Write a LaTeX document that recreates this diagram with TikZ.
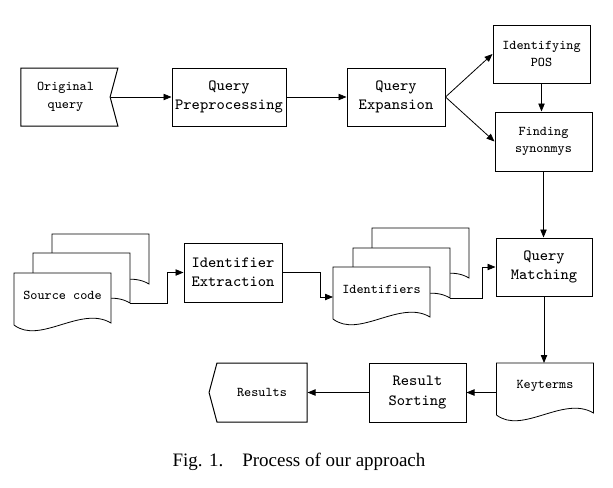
\documentclass[tikz,border=0pt]{standalone}
\usepackage{fontspec}
\setmainfont{Liberation Serif}
\usetikzlibrary{shapes.symbols,arrows.meta,calc,backgrounds}

\begin{document}
\begin{tikzpicture}[x=0.5pt, y=-0.5pt, line width=0.5pt,
    box/.style={draw, rectangle, fill=white, align=center, inner sep=0pt, font=\ttfamily\fontsize{7.8}{9.6}\selectfont},
    small/.style={font=\ttfamily\fontsize{6.7}{8.85}\selectfont},
    doc/.style={rectangle, anchor=north west, minimum width=48pt, minimum height=22pt, inner sep=0pt, align=center, small},
    arrow/.style={-{Triangle[length=4pt,width=3.2pt]}}]

    \useasboundingbox (0,0) rectangle (613,487);

    \node[box, small, signal, signal to=nowhere, signal from=east, signal pointer angle=150, minimum width=48.5pt, minimum height=29pt] at (65.5,97) (orig) {Original\\query};
    \node[box, minimum width=57pt, minimum height=29pt] at (229,97) (prep) {Query\\Preprocessing};
    \node[box, minimum width=49pt, minimum height=29pt] at (396,97) (expn) {Query\\Expansion};
    \node[box, small, minimum width=48.5pt, minimum height=29pt] at (541.5,54) (pos) {Identifying\\POS};
    \node[box, small, minimum width=48.5pt, minimum height=29.5pt] at (543.5,141.5) (syn) {Finding\\synonmys};
    \node[box, minimum width=48pt, minimum height=29pt] at (544,267) (match) {Query\\Matching};
    \node[box, minimum width=49pt, minimum height=29.5pt] at (233,272.5) (extr) {Identifier\\Extraction};
    \node[box, minimum width=48.5pt, minimum height=29.5pt] at (417.5,392.5) (sort) {Result\\Sorting};
    \node[box, small, signal, signal to=west, signal from=nowhere, signal pointer angle=150, minimum width=49pt, minimum height=29.5pt] at (262,392.5) (res) {Results};

    % document stacks
    \node[doc] at (52,234) (src3) {};
    \node[doc] at (33,253) (src2) {};
    \node[doc] at (14,273) (src1) {Source code};
    \node[doc] at (372,228) (ids3) {};
    \node[doc] at (353,248) (ids2) {};
    \node[doc] at (333,267) (ids1) {Identifiers};
    \node[doc] at (496.5,363) (keyt) {Keyterms};

    \begin{pgfonlayer}{background}
    \foreach \d in {src3,src2,src1,ids3,ids2,ids1,keyt}
        \draw[fill=white] (\d.north west) -- (\d.north east) -- ++(0,50) .. controls +(-30,-18) and +(26,20) .. ($(\d.north west)+(0,52)$) -- cycle;
    \end{pgfonlayer}

    \coordinate (src out) at ($(src2.north east)+(0,50)$);
    \coordinate (ids in) at ($(ids1.north west)+(0,30)$);
    \coordinate (ids out) at ($(ids2.north east)+(0,50)$);

    \draw[arrow] (orig.east) -- (prep.west);
    \draw[arrow] (prep.east) -- (expn.west);
    \draw[arrow] (expn.east) -- (pos.west);
    \draw[arrow] (expn.east) -- (syn.west);
    \draw[arrow] (pos.south) -- (pos.south |- syn.north);
    \draw[arrow] (syn.south) -- (syn.south |- match.north);
    \draw[arrow] (src out) -- ++(37,0) |- (extr.west);
    \draw[arrow] (extr.east) -- ++(38,0) |- (ids in);
    \draw[arrow] (ids out) -- ++(32,0) |- (match.west);
    \draw[arrow] (match.south) -- (match.south |- keyt.north);
    \draw[arrow] (keyt.west |- sort.east) -- (sort.east);
    \draw[arrow] (sort.west) -- (res.east);

    \node[font=\fontsize{9.5}{11}\selectfont] at (299,462) (cap) {Fig. 1.\quad Process of our approach};

\end{tikzpicture}
\end{document}
